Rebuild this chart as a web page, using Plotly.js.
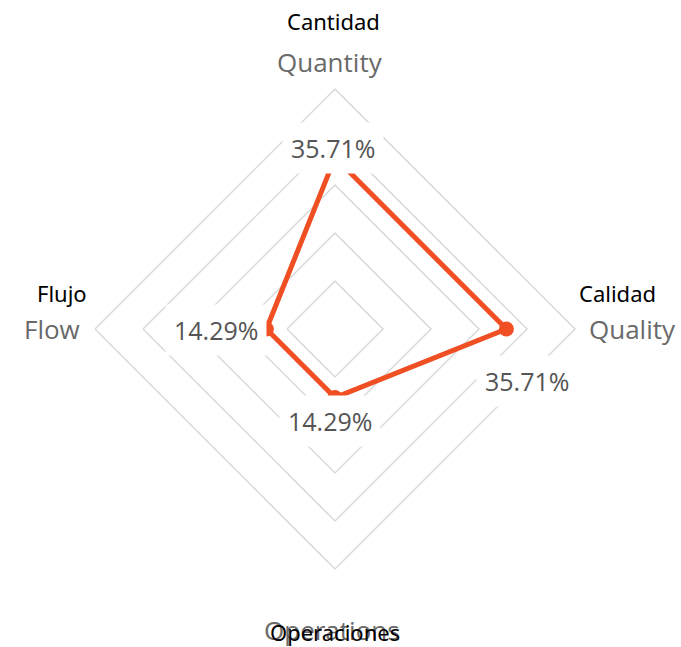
<!DOCTYPE html>
<html>
<head>
<meta charset="utf-8">
<script src="https://cdn.plot.ly/plotly-3.0.1.min.js"></script>
<style>html,body{margin:0;padding:0;background:#fff;}</style>
</head>
<body>
<div id="chart" style="width:681px;height:647px;"></div>
<script>
const categories = ["Quantity", "Quality", "Operations", "Flow"];
const categoriesEs = ["Cantidad", "Calidad", "Operaciones", "Flujo"];
const values = [35.71, 35.71, 14.29, 14.29];
const valueLabels = ["35.71%", "35.71%", "14.29%", "14.29%"];
const radialMax = 50;

const W = 681, H = 647;
const L = 95, T = 89, S = 480;
const px = x => (x - L) / S;
const py = y => (T + S - y) / S;

const trace = {
  type: "scatterpolar",
  r: values.concat([values[0]]),
  theta: categories.concat([categories[0]]),
  mode: "lines+markers",
  line: {color: "#F04E23", width: 5},
  marker: {color: "#F04E23", size: 15},
  hoverinfo: "skip",
  showlegend: false
};

// value labels positioned from data through the polar scale (paper units: radius 0.5)
const labelShift = [[-2, 10], [21, -52], [-5, -23], [-50, -1]];
const angles = [0, 90, 180, 270];
const annotations = [];
values.forEach((v, i) => {
  const a = angles[i] * Math.PI / 180;
  annotations.push({
    xref: "paper", yref: "paper",
    x: 0.5 + 0.5 * (v / radialMax) * Math.sin(a),
    y: 0.5 + 0.5 * (v / radialMax) * Math.cos(a),
    xanchor: "center", yanchor: "middle",
    text: valueLabels[i], showarrow: false,
    xshift: labelShift[i][0], yshift: labelShift[i][1],
    bgcolor: "#ffffff", borderpad: 8,
    font: {family: "'Open Sans', sans-serif", size: 25, color: "#555555"}
  });
});

// axis name labels (English, gray) and Spanish (black)
const enPos = [[330, 62], [632, 329], [52, 329], [332, 630]];
const esPos = [[333, 21], [617, 293], [62, 293], [335, 632]];
const enIdx = [0, 1, 3, 2];
enIdx.forEach((ci, k) => {
  annotations.push({
    xref: "paper", yref: "paper", x: px(enPos[k][0]), y: py(enPos[k][1]),
    text: categories[ci], showarrow: false, xanchor: "center", yanchor: "middle",
    font: {family: "'Open Sans', sans-serif", size: 26, color: "#6a6a6a"}
  });
  annotations.push({
    xref: "paper", yref: "paper", x: px(esPos[k][0]), y: py(esPos[k][1]),
    text: categoriesEs[ci], showarrow: false, xanchor: "center", yanchor: "middle",
    font: {family: "'Noto Sans', 'Open Sans', sans-serif", size: 22, color: "#000000"}
  });
});

const layout = {
  width: W, height: H,
  margin: {l: L, r: W - L - S, t: T, b: H - T - S, pad: 0},
  paper_bgcolor: "#ffffff",
  showlegend: false,
  polar: {
    bgcolor: "rgba(0,0,0,0)",
    gridshape: "linear",
    domain: {x: [0, 1], y: [0, 1]},
    radialaxis: {
      range: [0, radialMax], dtick: 10, tick0: 0,
      showline: false, showticklabels: false, ticks: "",
      gridcolor: "#d9d9d9", gridwidth: 1.5
    },
    angularaxis: {
      rotation: 90, direction: "clockwise",
      categoryorder: "array", categoryarray: categories,
      showgrid: false, showticklabels: false, ticks: "",
      showline: true, linecolor: "#d9d9d9", linewidth: 1.5
    }
  },
  annotations: annotations
};

Plotly.newPlot("chart", [trace], layout, {displayModeBar: false, staticPlot: true});
</script>
</body>
</html>
